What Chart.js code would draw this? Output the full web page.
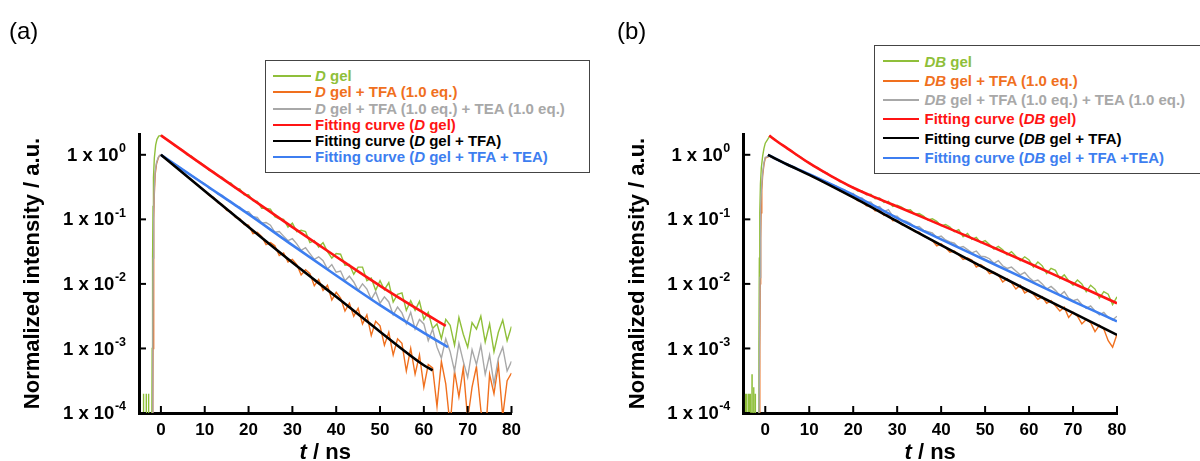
<!DOCTYPE html>
<html>
<head>
<meta charset="utf-8">
<title>Fluorescence decay of D gel and DB gel</title>
<script src="https://cdn.jsdelivr.net/npm/chart.js@4.4.1/dist/chart.umd.min.js"></script>
<style>
  html, body { margin: 0; padding: 0; background: #fff; }
  #page { position: relative; width: 1200px; height: 461px; overflow: hidden; font-family: 'Liberation Sans', Arial, sans-serif; }
  canvas { position: absolute; top: 0; }
  .panel-tag { position: absolute; font-size: 24px; line-height: 24px; color: #000; }
  .legend { position: absolute; box-sizing: border-box; border: 1.5px solid #444; background: #fff; font-weight: bold; font-size: 15px; }
  .legend .swatch { position: absolute; height: 2px; }
  .legend .txt { position: absolute; white-space: nowrap; }
</style>
</head>
<body>
<div id="page">
  <canvas id="chart-a" width="600" height="461" style="left:0"></canvas>
  <canvas id="chart-b" width="600" height="461" style="left:600px"></canvas>
  <div class="panel-tag" style="left:9px;top:19px">(a)</div>
  <div class="panel-tag" style="left:617px;top:19px">(b)</div>
  <div class="legend" id="legend-a" style="left:265px;top:60px;width:325px;height:113px"></div>
  <div class="legend" id="legend-b" style="left:874px;top:45px;width:360px;height:129px"></div>
</div>
<script>
const FONT = "'Liberation Sans', Arial, sans-serif";

// shared time grid for the decay part (ns)
const decayT = [
  0, 1, 2, 3, 4, 5, 6, 7, 8, 9,
  10, 11, 12, 13, 14, 15, 16, 17, 18, 19,
  20, 21, 22, 23, 24, 25, 26, 27, 28, 29,
  30, 31, 32, 33, 34, 35, 36, 37, 38, 39,
  40, 41, 42, 43, 44, 45, 46, 47, 48, 49,
  50, 51, 52, 53, 54, 55, 56, 57, 58, 59,
  60, 61, 62, 63, 64, 65, 66, 67, 68, 69,
  70, 71, 72, 73, 74, 75, 76, 77, 78, 79,
  80,
];
const xTicks = [0, 10, 20, 30, 40, 50, 60, 70, 80];
const yExps = [0, -1, -2, -3, -4];

// all intensities below are log10(normalized intensity)

// ---- panel (a): D gel ----
const dGelRiseT = [-5, -4.02, -3.98, -3.94, -3.4, -3.36, -3.32, -2.86, -2.82, -2.78, -2.1, -2.0, -1.9, -1.8, -1.7, -1.5, -1.2, -0.9, -0.5];
const dGelRise = [-4.5, -4.5, -3.7, -4.5, -4.5, -3.7, -4.5, -4.5, -3.7, -4.5, -4.5, -3.0, -1.6, -0.8, -0.35, -0.05, 0.15, 0.24, 0.29];
const dGel = [
  0.30, 0.25, 0.21, 0.15, 0.11, 0.07, 0.00, -0.02, -0.09, -0.12,
  -0.17, -0.24, -0.26, -0.33, -0.35, -0.42, -0.44, -0.52, -0.53, -0.62,
  -0.62, -0.71, -0.72, -0.83, -0.83, -0.84, -0.96, -0.99, -1.00, -1.12,
  -1.06, -1.19, -1.17, -1.19, -1.36, -1.33, -1.43, -1.36, -1.50, -1.60,
  -1.53, -1.54, -1.71, -1.70, -1.85, -1.74, -1.74, -1.95, -1.91, -2.10,
  -1.95, -2.09, -1.98, -2.28, -2.16, -2.14, -2.41, -2.26, -2.41, -2.27,
  -2.55, -2.44, -2.69, -2.62, -2.85, -2.55, -2.64, -2.95, -2.52, -2.78,
  -2.98, -2.60, -2.70, -2.50, -2.90, -2.62, -3.05, -2.75, -2.56, -2.88,
  -2.66,
];
const dTfaRiseT = [-1.9, -1.8, -1.7, -1.6, -1.5, -1.3, -1.0, -0.6, -0.3];
const dTfaRise = [-4.5, -3.0, -1.8, -1.0, -0.6, -0.3, -0.14, -0.05, -0.01];
const dTfa = [
  0.00, -0.06, -0.11, -0.17, -0.22, -0.28, -0.34, -0.39, -0.45, -0.50,
  -0.56, -0.63, -0.66, -0.74, -0.77, -0.86, -0.88, -0.97, -0.99, -1.08,
  -1.09, -1.22, -1.20, -1.27, -1.39, -1.36, -1.41, -1.56, -1.52, -1.66,
  -1.62, -1.70, -1.86, -1.78, -1.84, -2.03, -1.93, -2.10, -2.02, -2.25,
  -2.13, -2.22, -2.42, -2.30, -2.50, -2.38, -2.62, -2.48, -2.80, -2.58,
  -2.65, -2.95, -2.75, -3.10, -2.85, -2.92, -3.35, -3.00, -3.40, -3.10,
  -3.60, -3.25, -3.30, -3.90, -3.20, -3.55, -4.20, -3.35, -3.75, -3.30,
  -4.10, -3.60, -3.28, -3.95, -4.40, -3.40, -3.70, -3.25, -4.05, -3.50,
  -3.38,
];
const dTeaRiseT = [-1.95, -1.85, -1.75, -1.65, -1.5, -1.3, -1.0, -0.6, -0.3];
const dTeaRise = [-4.5, -2.8, -1.6, -0.9, -0.5, -0.25, -0.12, -0.04, -0.01];
const dTea = [
  0.00, -0.05, -0.09, -0.14, -0.18, -0.23, -0.28, -0.32, -0.37, -0.41,
  -0.45, -0.52, -0.55, -0.61, -0.63, -0.70, -0.72, -0.79, -0.81, -0.88,
  -0.88, -0.96, -0.97, -1.06, -1.05, -1.09, -1.20, -1.19, -1.26, -1.33,
  -1.30, -1.38, -1.48, -1.44, -1.53, -1.62, -1.58, -1.64, -1.77, -1.70,
  -1.82, -1.80, -1.95, -1.88, -1.97, -2.10, -2.00, -2.08, -2.24, -2.12,
  -2.30, -2.20, -2.28, -2.48, -2.36, -2.45, -2.62, -2.44, -2.70, -2.55,
  -2.62, -2.88, -2.70, -2.98, -3.15, -2.85, -3.05, -3.35, -2.92, -3.20,
  -3.45, -3.02, -3.25, -2.95, -3.40, -3.10, -3.55, -3.15, -2.98, -3.35,
  -3.20,
];
const dFitGelT = [0, 5, 10, 20, 30, 40, 50, 60, 65];
const dFitGel = [0.30, 0.06, -0.18, -0.65, -1.12, -1.58, -2.03, -2.45, -2.65];
const dFitTfaT = [0, 10, 20, 30, 40, 50, 60, 62];
const dFitTfa = [0, -0.56, -1.12, -1.67, -2.20, -2.74, -3.26, -3.34];
const dFitTeaT = [0, 10, 20, 30, 40, 50, 60, 65.5];
const dFitTea = [0, -0.46, -0.92, -1.40, -1.87, -2.33, -2.76, -2.98];

// ---- panel (b): DB gel ----
const dbGelRiseT = [-5, -4.55, -4.5, -4.45, -4.25, -4.2, -4.15, -3.85, -3.8, -3.75, -3.5, -3.45, -3.4, -3.05, -3.02, -2.99, -2.68, -2.64, -2.6, -2.3, -2.27, -2.24, -1.55, -1.45, -1.35, -1.25, -1.1, -0.9, -0.6, -0.3];
const dbGelRise = [-4.5, -4.5, -3.7, -4.5, -4.5, -3.7, -4.5, -4.5, -3.7, -4.5, -4.5, -3.7, -4.5, -4.5, -3.4, -4.5, -4.5, -3.6, -4.5, -4.5, -3.7, -4.5, -4.5, -3.0, -1.6, -0.9, -0.45, -0.2, -0.02, 0.1];
const dbGel = [
  0.18, 0.29, 0.25, 0.19, 0.15, 0.10, 0.06, 0.00, -0.03, -0.09,
  -0.12, -0.18, -0.20, -0.26, -0.28, -0.34, -0.36, -0.42, -0.43, -0.49,
  -0.50, -0.56, -0.56, -0.62, -0.61, -0.68, -0.67, -0.74, -0.72, -0.80,
  -0.78, -0.81, -0.86, -0.85, -0.92, -0.91, -0.95, -1.01, -0.99, -1.03,
  -1.10, -1.08, -1.12, -1.19, -1.16, -1.27, -1.22, -1.31, -1.28, -1.36,
  -1.33, -1.39, -1.46, -1.42, -1.47, -1.55, -1.50, -1.57, -1.64, -1.58,
  -1.63, -1.74, -1.66, -1.72, -1.84, -1.76, -1.79, -1.92, -1.86, -1.95,
  -2.02, -1.94, -2.00, -2.12, -2.02, -2.08, -2.22, -2.12, -2.16, -2.32,
  -2.20,
];
const dbTfaRiseT = [-1.4, -1.25, -1.15, -1.05, -0.95, -0.8, -0.6, -0.3];
const dbTfaRise = [-4.5, -3.0, -2.0, -1.3, -0.9, -0.55, -0.32, -0.15];
const dbTfa = [
  -0.05, -0.02, -0.06, -0.09, -0.12, -0.15, -0.19, -0.21, -0.25, -0.27,
  -0.31, -0.35, -0.37, -0.42, -0.44, -0.49, -0.51, -0.56, -0.58, -0.63,
  -0.65, -0.71, -0.72, -0.79, -0.79, -0.87, -0.85, -0.94, -0.92, -1.02,
  -1.01, -1.08, -1.10, -1.13, -1.19, -1.20, -1.26, -1.29, -1.33, -1.41,
  -1.38, -1.44, -1.51, -1.49, -1.55, -1.62, -1.60, -1.63, -1.74, -1.70,
  -1.75, -1.84, -1.82, -1.86, -1.97, -1.92, -1.98, -2.08, -2.02, -2.14,
  -2.10, -2.16, -2.24, -2.20, -2.30, -2.26, -2.34, -2.42, -2.36, -2.52,
  -2.44, -2.50, -2.62, -2.55, -2.60, -2.74, -2.64, -2.70, -2.88, -2.98,
  -2.78,
];
const dbTeaRiseT = [-1.45, -1.3, -1.2, -1.1, -1.0, -0.85, -0.6, -0.3];
const dbTeaRise = [-4.5, -2.9, -1.9, -1.2, -0.8, -0.5, -0.28, -0.12];
const dbTea = [
  -0.04, -0.02, -0.06, -0.09, -0.12, -0.15, -0.18, -0.21, -0.24, -0.27,
  -0.30, -0.33, -0.36, -0.40, -0.42, -0.46, -0.48, -0.53, -0.54, -0.60,
  -0.60, -0.67, -0.67, -0.74, -0.73, -0.81, -0.80, -0.88, -0.85, -0.95,
  -0.95, -1.02, -1.03, -1.06, -1.12, -1.11, -1.17, -1.19, -1.21, -1.28,
  -1.26, -1.32, -1.35, -1.37, -1.44, -1.42, -1.47, -1.52, -1.49, -1.57,
  -1.58, -1.61, -1.68, -1.64, -1.72, -1.76, -1.74, -1.80, -1.86, -1.82,
  -1.90, -1.96, -1.94, -2.00, -2.08, -2.04, -2.10, -2.18, -2.12, -2.22,
  -2.26, -2.24, -2.32, -2.38, -2.34, -2.42, -2.48, -2.44, -2.52, -2.56,
  -2.50,
];
const dbFitGelT = [0.9, 2, 5, 10, 15, 20, 25, 30, 40, 50, 60, 70, 80];
const dbFitGel = [0.30, 0.24, 0.10, -0.13, -0.33, -0.51, -0.66, -0.80, -1.09, -1.38, -1.68, -1.99, -2.30];
const dbFitTfaT = [0.6, 5, 10, 20, 30, 40, 50, 60, 70, 80];
const dbFitTfa = [0, -0.15, -0.31, -0.66, -1.03, -1.40, -1.76, -2.11, -2.45, -2.79];
const dbFitTeaT = [0.6, 5, 10, 20, 30, 40, 50, 60, 70, 80];
const dbFitTea = [0, -0.15, -0.30, -0.62, -0.98, -1.31, -1.63, -1.95, -2.27, -2.58];

const legendA = [
  '<i>D</i> gel',
  '<i>D</i> gel + TFA (1.0 eq.)',
  '<i>D</i> gel + TFA (1.0 eq.) + TEA (1.0 eq.)',
  'Fitting curve (<i>D</i> gel)',
  'Fitting curve (<i>D</i> gel + TFA)',
  'Fitting curve (<i>D</i> gel + TFA + TEA)',
];
const legendB = [
  '<i>DB</i> gel',
  '<i>DB</i> gel + TFA (1.0 eq.)',
  '<i>DB</i> gel + TFA (1.0 eq.) + TEA (1.0 eq.)',
  'Fitting curve (<i>DB</i> gel)',
  'Fitting curve (<i>DB</i> gel + TFA)',
  'Fitting curve (<i>DB</i> gel + TFA +TEA)',
];

const colors = ['#8fbf3a', '#f0701e', '#a8a8a8', '#ff1414', '#000000', '#3d7ef0'];

function toPoints(ts, logs) {
  return ts.map((t, i) => ({ x: t, y: Math.pow(10, logs[i]) }));
}

function measuredSeries(riseT, rise, decay) {
  return toPoints(riseT, rise).concat(toPoints(decayT, decay));
}

function buildDatasets(series) {
  return series.map((s, i) => {
    const isFit = i >= 3;
    return {
      data: s,
      borderColor: colors[i],
      borderWidth: isFit ? 2.6 : 1.4,
      pointRadius: 0,
      tension: 0,
      cubicInterpolationMode: isFit ? 'monotone' : 'default',
      order: isFit ? 1 : 5 - i,
    };
  });
}

const decorPlugin = {
  id: 'decor',
  afterDraw(chart) {
    const { ctx, chartArea, scales } = chart;
    const x = scales.x;
    const y = scales.y;
    ctx.save();
    ctx.strokeStyle = '#000';
    ctx.lineWidth = 2;
    xTicks.forEach((v) => {
      const px = x.getPixelForValue(v);
      ctx.beginPath();
      ctx.moveTo(px, chartArea.bottom);
      ctx.lineTo(px, chartArea.bottom - 7);
      ctx.stroke();
    });
    yExps.forEach((e) => {
      const py = y.getPixelForValue(Math.pow(10, e));
      ctx.beginPath();
      ctx.moveTo(chartArea.left, py);
      ctx.lineTo(chartArea.left + 7, py);
      ctx.stroke();
    });

    // y tick labels "1 x 10^n"
    ctx.fillStyle = '#000';
    ctx.textAlign = 'right';
    ctx.textBaseline = 'middle';
    yExps.forEach((e) => {
      const py = y.getPixelForValue(Math.pow(10, e));
      const right = chartArea.left - 13;
      const sup = String(e);
      ctx.font = `bold 12.5px ${FONT}`;
      const supW = ctx.measureText(sup).width;
      ctx.fillText(sup, right, py - 6);
      ctx.font = `bold 18.5px ${FONT}`;
      ctx.fillText('1 x 10', right - supW - 0.5, py + 1);
    });

    // x title "t / ns"
    const cx = (chartArea.left + chartArea.right) / 2;
    ctx.textAlign = 'left';
    ctx.textBaseline = 'alphabetic';
    ctx.font = `italic bold 22px ${FONT}`;
    const tW = ctx.measureText('t').width;
    ctx.font = `bold 22px ${FONT}`;
    const restW = ctx.measureText(' / ns').width;
    const start = cx - (tW + restW) / 2;
    ctx.font = `italic bold 22px ${FONT}`;
    ctx.fillText('t', start, 459);
    ctx.font = `bold 22px ${FONT}`;
    ctx.fillText(' / ns', start + tW, 459);
    ctx.restore();
  },
};

function buildChart(canvasId, series, padLeft, padRight) {
  const ctx = document.getElementById(canvasId).getContext('2d');
  return new Chart(ctx, {
    type: 'line',
    data: { datasets: buildDatasets(series) },
    options: {
      responsive: false,
      animation: false,
      devicePixelRatio: 1,
      parsing: false,
      layout: { padding: { left: padLeft, right: padRight, top: 134, bottom: 0 } },
      plugins: { legend: { display: false }, tooltip: { enabled: false } },
      scales: {
        x: {
          type: 'linear',
          min: -5,
          max: 80,
          afterBuildTicks: (s) => { s.ticks = xTicks.map((v) => ({ value: v })); },
          afterFit: (s) => { s.height = 48; },
          grid: { display: false, drawTicks: false },
          border: { display: true, color: '#000', width: 3 },
          ticks: {
            color: '#000',
            font: { family: FONT, size: 17, weight: 'bold' },
            padding: 7,
            maxRotation: 0,
            autoSkip: false,
          },
        },
        y: {
          type: 'logarithmic',
          min: 1e-4,
          max: 2.1,
          afterBuildTicks: (s) => { s.ticks = yExps.map((e) => ({ value: Math.pow(10, e) })); },
          afterFit: (s) => { s.width = 139; },
          grid: { display: false, drawTicks: false },
          border: { display: true, color: '#000', width: 3 },
          ticks: { display: false },
          title: {
            display: true,
            text: 'Normalized intensity / a.u.',
            color: '#000',
            font: { family: FONT, size: 22, weight: 'bold' },
            padding: { top: 20, bottom: 0 },
          },
        },
      },
    },
    plugins: [decorPlugin],
  });
}

function buildLegend(id, labels, opts) {
  const box = document.getElementById(id);
  labels.forEach((html, i) => {
    const center = opts.first + i * opts.step;
    const sw = document.createElement('div');
    sw.className = 'swatch';
    sw.style.left = `${opts.swLeft}px`;
    sw.style.width = `${opts.swWidth}px`;
    sw.style.top = `${center - 1}px`;
    sw.style.background = colors[i];
    const txt = document.createElement('div');
    txt.className = 'txt';
    txt.style.left = `${opts.textLeft}px`;
    txt.style.top = `${center - opts.step / 2}px`;
    txt.style.lineHeight = `${opts.step}px`;
    txt.style.color = colors[i];
    txt.innerHTML = html;
    box.appendChild(sw);
    box.appendChild(txt);
  });
}

buildChart('chart-a', [
  measuredSeries(dGelRiseT, dGelRise, dGel),
  measuredSeries(dTfaRiseT, dTfaRise, dTfa),
  measuredSeries(dTeaRiseT, dTeaRise, dTea),
  toPoints(dFitGelT, dFitGel),
  toPoints(dFitTfaT, dFitTfa),
  toPoints(dFitTeaT, dFitTea),
], 0, 88.5);

buildChart('chart-b', [
  measuredSeries(dbGelRiseT, dbGelRise, dbGel),
  measuredSeries(dbTfaRiseT, dbTfaRise, dbTfa),
  measuredSeries(dbTeaRiseT, dbTeaRise, dbTea),
  toPoints(dbFitGelT, dbFitGel),
  toPoints(dbFitTfaT, dbFitTfa),
  toPoints(dbFitTeaT, dbFitTea),
], 4.3, 83);

buildLegend('legend-a', legendA, { first: 15.2, step: 16.2, swLeft: 7, swWidth: 38, textLeft: 49 });
buildLegend('legend-b', legendB, { first: 15.2, step: 19.3, swLeft: 8, swWidth: 36, textLeft: 49.5 });
</script>
</body>
</html>
